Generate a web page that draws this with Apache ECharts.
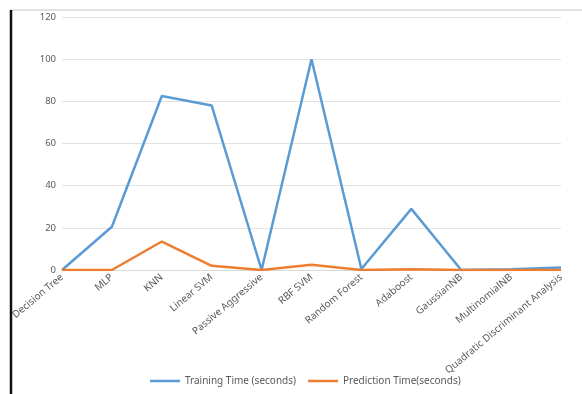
<!DOCTYPE html>
<html>
<head>
<meta charset="utf-8">
<script src="https://cdn.jsdelivr.net/npm/echarts@6/dist/echarts.min.js"></script>
<style>
  html, body { margin: 0; padding: 0; background: #fff; }
  #chart { width: 582px; height: 394px; }
</style>
</head>
<body>
<div id="chart"></div>
<script>
// classifier names along the x axis
var models = ["Decision Tree", "MLP", "KNN", "Linear SVM", "Passive Aggressive", "RBF SVM",
  "Random Forest", "Adaboost", "GaussianNB", "MultinomialNB", "Quadratic Discriminant Analysis"];
var trainingTime = [0, 20.5, 82.5, 78, 0, 100, 0.5, 29, 0, 0.3, 1.2];
var predictionTime = [0, 0, 13.5, 2, 0, 2.5, 0, 0.3, 0, 0, 0];
var yTicks = [0, 20, 40, 60, 80, 100, 120];

var chart = echarts.init(document.getElementById("chart"));
var labelColor = "#595959";

chart.setOption({
  animation: false,
  textStyle: { fontFamily: "Noto Sans" },
  color: ["#5b9bd5", "#ed7d31"],
  graphic: [
    { type: "line", shape: { x1: 10, y1: 10, x2: 582, y2: 10 }, style: { stroke: "#d9d9d9", lineWidth: 1.5 } },
    { type: "line", shape: { x1: 11, y1: 10, x2: 11, y2: 394 }, style: { stroke: "#111", lineWidth: 2.5 } }
  ],
  grid: { left: 62, right: 21, top: 17, bottom: 124 },
  legend: {
    bottom: 3,
    left: 145,
    icon: "rect",
    itemWidth: 30,
    itemHeight: 2.5,
    itemGap: 12,
    textStyle: { color: labelColor, fontSize: 10 },
    data: ["Training Time (seconds)", "Prediction Time(seconds)"]
  },
  xAxis: {
    type: "category",
    data: models,
    boundaryGap: false,
    axisLine: { lineStyle: { color: "#d9d9d9" } },
    axisTick: { show: false },
    axisLabel: { interval: 0, rotate: 40, color: labelColor, fontSize: 10, margin: 6 }
  },
  yAxis: {
    type: "value",
    min: yTicks[0],
    max: yTicks[yTicks.length - 1],
    interval: 20,
    axisLine: { show: false },
    axisTick: { show: false },
    axisLabel: { color: labelColor, fontSize: 9.5, margin: 6 },
    splitLine: { lineStyle: { color: "#e3e3e3" } }
  },
  series: [
    {
      name: "Training Time (seconds)",
      type: "line",
      data: trainingTime,
      symbol: "none",
      lineStyle: { width: 2.5 }
    },
    {
      name: "Prediction Time(seconds)",
      type: "line",
      data: predictionTime,
      symbol: "none",
      lineStyle: { width: 2.5 }
    }
  ]
});
</script>
</body>
</html>
